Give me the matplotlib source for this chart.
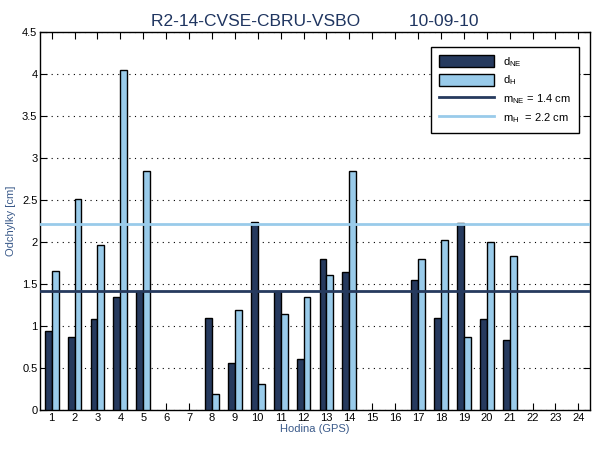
import numpy as np
import matplotlib
matplotlib.use("Agg")
import matplotlib.pyplot as plt

plt.rcParams['font.family'] = ['Liberation Sans', 'DejaVu Sans']

hours = list(range(1, 25))
# NaN = no data for that hour
d_ne = [0.94, 0.87, 1.08, 1.35, 1.42, np.nan, np.nan, 1.10, 0.56, 2.24, 1.42, 0.61,
        1.80, 1.64, np.nan, np.nan, 1.55, 1.10, 2.23, 1.08, 0.83, np.nan, np.nan, np.nan]
d_h = [1.65, 2.51, 1.96, 4.05, 2.85, np.nan, np.nan, 0.19, 1.19, 0.31, 1.14, 1.35,
       1.61, 2.84, np.nan, np.nan, 1.80, 2.02, 0.87, 2.00, 1.83, np.nan, np.nan, np.nan]
m_ne = 1.42
m_h = 2.21

dark = '#263a5e'
light = '#99cbea'
navy = '#1f3560'

fig = plt.figure(figsize=(6, 4.5), dpi=100)
ax = fig.add_axes([0.067, 0.089, 0.916, 0.84])

x = np.array(hours)
w = 0.3
b1 = ax.bar(x - w / 2, d_ne, w, color=dark, edgecolor='black', linewidth=1, zorder=3)
b2 = ax.bar(x + w / 2, d_h, w, color=light, edgecolor='black', linewidth=1, zorder=3)
l1 = ax.axhline(m_ne, color=dark, linewidth=2, zorder=4)
l2 = ax.axhline(m_h, color=light, linewidth=2, zorder=4)

ax.set_xlim(0.5, 24.5)
ax.set_ylim(0, 4.5)
ax.set_xticks(hours)
ax.set_yticks(np.arange(0, 4.51, 0.5))
ax.set_yticklabels(['0', '0.5', '1', '1.5', '2', '2.5', '3', '3.5', '4', '4.5'])
ax.tick_params(direction='in', top=True, right=True, labelsize=8, length=5, pad=2)
ax.yaxis.grid(True, linestyle=(0, (1, 4)), color='black', linewidth=0.8)
for s in ax.spines.values():
    s.set_linewidth(1)

ax.set_title('R2-14-CVSE-CBRU-VSBO          10-09-10', fontsize=12.5, color=navy, pad=4)
ax.set_xlabel('Hodina (GPS)', fontsize=8, color='#3a5a8a', labelpad=1)
ax.set_ylabel('Odchylky [cm]', fontsize=8, color='#3a5a8a', labelpad=4)

leg = ax.legend([b1, b2, l1, l2],
                ['d$_\\mathregular{NE}$', 'd$_\\mathregular{H}$',
                 'm$_\\mathregular{NE}$ = 1.4 cm', 'm$_\\mathregular{H}$  = 2.2 cm'],
                loc='upper right', bbox_to_anchor=(0.99, 0.975), fontsize=8, fancybox=False,
                edgecolor='black', framealpha=1, handlelength=5, handleheight=1.3,
                borderpad=0.7, labelspacing=0.45)
leg.get_frame().set_linewidth(1)

fig.savefig('out.png', dpi=100)
